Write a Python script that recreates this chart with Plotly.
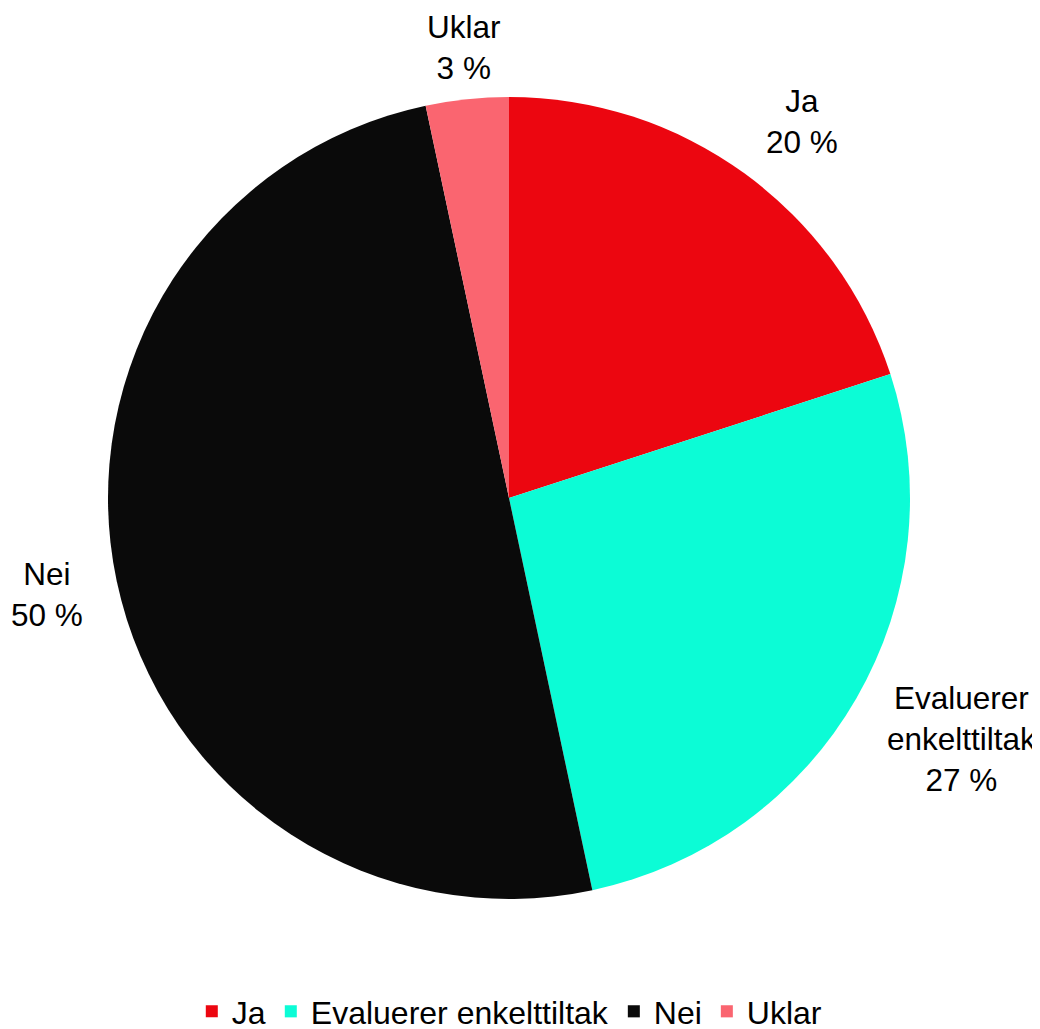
import math
import plotly.graph_objects as go

categories = ["Ja", "Evaluerer enkelttiltak", "Nei", "Uklar"]
label_lines = [["Ja"], ["Evaluerer", "enkelttiltak"], ["Nei"], ["Uklar"]]
values = [6, 8, 15, 1]
colors = ["#EC0610", "#0CFCD6", "#0A0A0A", "#FA6570"]

W, H = 1040, 1029
dom_x = [0, 0.96346]
dom_y = [0.13411, 0.91351]
FONT = "Liberation Sans, Arial, sans-serif"
LABEL_FS = 31.5
LEGEND_FS = 32

fig = go.Figure(go.Pie(
    labels=categories,
    values=values,
    textinfo="none",
    marker=dict(colors=colors, line=dict(width=0)),
    sort=False,
    direction="clockwise",
    rotation=0,
    domain=dict(x=dom_x, y=dom_y),
    automargin=False,
))

# outside labels placed along each slice's mid-angle
total = sum(values)
cx = (dom_x[0] + dom_x[1]) / 2 * W
cy = (1 - (dom_y[0] + dom_y[1]) / 2) * H
r = (dom_y[1] - dom_y[0]) * H / 2
cum = 0
for lines, v in zip(label_lines, values):
    mid = (cum + v / 2) / total * 2 * math.pi
    cum += v
    s, c = math.sin(mid), math.cos(mid)
    rl = 1.082 * r
    px = cx + s * rl
    nl = len(lines) + 1
    py = cy - c * (rl + nl * 16)
    py = max(py, nl * 20)  # keep label inside the canvas
    if s > 0.3:
        xa = "left"
    elif s < -0.3:
        xa = "right"
    else:
        xa = "center"
    txt = "<br>".join(lines + [f"{round(v / total * 100)} %"])
    fig.add_annotation(x=px / W, y=1 - py / H, xref="paper", yref="paper",
                       text=txt, showarrow=False, xanchor=xa, yanchor="middle",
                       align="center", font=dict(family=FONT, size=LABEL_FS, color="#000000"))

fig.update_layout(
    width=W, height=H,
    margin=dict(l=0, r=0, t=0, b=0, autoexpand=False),
    paper_bgcolor="white",
    font=dict(family=FONT, size=LEGEND_FS, color="#000000"),
    showlegend=True,
    legend=dict(orientation="h", x=0.4825, xanchor="center", y=-0.002, yanchor="bottom",
                font=dict(size=LEGEND_FS), traceorder="normal"),
)

fig.write_html("out.html")
